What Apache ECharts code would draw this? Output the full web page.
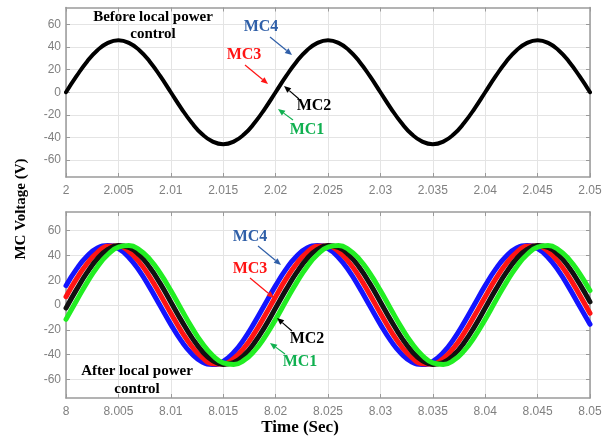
<!DOCTYPE html>
<html><head><meta charset="utf-8">
<script src="https://cdn.jsdelivr.net/npm/echarts@6/dist/echarts.min.js"></script>
<style>html,body{margin:0;padding:0;background:#fff}#c{width:605px;height:438px}</style>
</head><body><div id="c"></div>
<script>
// ---- data ----
const tTop = [2,2.001,2.002,2.003,2.004,2.005,2.006,2.007,2.008,2.009,2.01,2.011,2.012,2.013,2.014,2.015,2.016,2.017,2.018,2.019,2.02,2.021,2.022,2.023,2.024,2.025,2.026,2.027,2.028,2.029,2.03,2.031,2.032,2.033,2.034,2.035,2.036,2.037,2.038,2.039,2.04,2.041,2.042,2.043,2.044,2.045,2.046,2.047,2.048,2.049,2.05];
const vBefore = [0,14.2,27,37.2,43.7,46,43.7,37.2,27,14.2,0,-14.2,-27,-37.2,-43.7,-46,-43.7,-37.2,-27,-14.2,0,14.2,27,37.2,43.7,46,43.7,37.2,27,14.2,0,-14.2,-27,-37.2,-43.7,-46,-43.7,-37.2,-27,-14.2,0,14.2,27,37.2,43.7,46,43.7,37.2,27,14.2,0];
const tBot = [8,8.001,8.002,8.003,8.004,8.005,8.006,8.007,8.008,8.009,8.01,8.011,8.012,8.013,8.014,8.015,8.016,8.017,8.018,8.019,8.02,8.021,8.022,8.023,8.024,8.025,8.026,8.027,8.028,8.029,8.03,8.031,8.032,8.033,8.034,8.035,8.036,8.037,8.038,8.039,8.04,8.041,8.042,8.043,8.044,8.045,8.046,8.047,8.048,8.049,8.05];
const vMC4 = [15.6,28.9,39.3,45.9,48,45.4,38.3,27.5,14,-0.8,-15.6,-28.9,-39.3,-45.9,-48,-45.4,-38.3,-27.5,-14,0.8,15.6,28.9,39.3,45.9,48,45.4,38.3,27.5,14,-0.8,-15.6,-28.9,-39.3,-45.9,-48,-45.4,-38.3,-27.5,-14,0.8,15.6,28.9,39.3,45.9,48,45.4,38.3,27.5,14,-0.8,-15.6];
const vMC3 = [6.7,21,33.3,42.4,47.3,47.5,43.1,34.5,22.5,8.3,-6.7,-21,-33.3,-42.4,-47.3,-47.5,-43.1,-34.5,-22.5,-8.3,6.7,21,33.3,42.4,47.3,47.5,43.1,34.5,22.5,8.3,-6.7,-21,-33.3,-42.4,-47.3,-47.5,-43.1,-34.5,-22.5,-8.3,6.7,21,33.3,42.4,47.3,47.5,43.1,34.5,22.5,8.3,-6.7];
const vMC2 = [-2.5,12.4,26.1,37.3,44.8,47.9,46.4,40.3,30.2,17.2,2.5,-12.4,-26.1,-37.3,-44.8,-47.9,-46.4,-40.3,-30.2,-17.2,-2.5,12.4,26.1,37.3,44.8,47.9,46.4,40.3,30.2,17.2,2.5,-12.4,-26.1,-37.3,-44.8,-47.9,-46.4,-40.3,-30.2,-17.2,-2.5,12.4,26.1,37.3,44.8,47.9,46.4,40.3,30.2,17.2,2.5];
const vMC1 = [-11.6,3.4,18,30.9,40.7,46.6,47.9,44.5,36.8,25.4,11.6,-3.4,-18,-30.9,-40.7,-46.6,-47.9,-44.5,-36.8,-25.4,-11.6,3.4,18,30.9,40.7,46.6,47.9,44.5,36.8,25.4,11.6,-3.4,-18,-30.9,-40.7,-46.6,-47.9,-44.5,-36.8,-25.4,-11.6,3.4,18,30.9,40.7,46.6,47.9,44.5,36.8,25.4,11.6];
const yTicks = [-60,-40,-20,0,20,40,60];
const seriesNames = ['MC4','MC3','MC2','MC1'];

// ---- styling ----
const SERIF = '"Liberation Serif","Times New Roman",serif';
const AX = '#9a9a9a';
const pair = (ts, vs) => ts.map((t, i) => [t, vs[i]]);

function xAx(grid, min, max, pos, labels) {
  return {
    type: 'value', gridIndex: grid, min: min, max: max, interval: 0.005, position: pos,
    axisLine: { show: true, onZero: false, lineStyle: { color: AX, width: 1.5 } },
    axisTick: { show: true, inside: true, length: 4, lineStyle: { color: AX } },
    axisLabel: { show: labels, color: '#808080', fontFamily: '"Liberation Sans",Arial,sans-serif', fontSize: 12, margin: 8,
      formatter: v => String(+v.toFixed(3)) },
    splitLine: { show: labels, lineStyle: { color: '#e4e4e4', width: 1 } }
  };
}
function yAx(grid, pos, labels) {
  return {
    type: 'value', gridIndex: grid, min: -75, max: 75, position: pos,
    axisLine: { show: true, onZero: false, lineStyle: { color: AX, width: 1.5 } },
    axisTick: { show: true, inside: true, length: 4, customValues: yTicks, lineStyle: { color: AX } },
    axisLabel: { show: labels, customValues: yTicks, color: '#808080', fontFamily: '"Liberation Sans",Arial,sans-serif', fontSize: 12, margin: 5 },
    splitLine: { show: labels, lineStyle: { color: '#e4e4e4', width: 1 } }
  };
}

function txt(x, y, s, color, size) {
  return { type: 'text', x: x, y: y, z: 100,
    style: { text: s, fill: color, font: 'bold ' + size + 'px ' + SERIF, align: 'center', verticalAlign: 'middle' } };
}
function arrow(x1, y1, x2, y2, c) {
  const a = Math.atan2(y2 - y1, x2 - x1), L = 7, W = 3;
  const bx = x2 - L * Math.cos(a), by = y2 - L * Math.sin(a);
  const px = -Math.sin(a) * W, py = Math.cos(a) * W;
  return [
    { type: 'line', z: 100, shape: { x1: x1, y1: y1, x2: bx, y2: by }, style: { stroke: c, lineWidth: 1.2 } },
    { type: 'polygon', z: 100, shape: { points: [[x2, y2], [bx + px, by + py], [bx - px, by - py]] }, style: { fill: c } }
  ];
}
const C4 = '#2f5fa8', C3 = '#ff1414', C2 = '#000', C1 = '#10b050';
const graphics = [].concat(
  [txt(153, 17, 'Before local power', '#000', 15), txt(153, 34.5, 'control', '#000', 15)],
  [txt(261, 27, 'MC4', C4, 16)], arrow(270, 37, 292, 55, C4),
  [txt(244, 55, 'MC3', C3, 16)], arrow(245, 65, 268, 84, C3),
  [txt(314, 106, 'MC2', C2, 16)], arrow(299, 99, 284, 86, C2),
  [txt(307, 130, 'MC1', C1, 16)], arrow(293, 120, 278, 109, C1),
  [txt(137, 371, 'After local power', '#000', 15), txt(137, 389, 'control', '#000', 15)],
  [txt(250, 237, 'MC4', C4, 16)], arrow(258, 246, 281, 265, C4),
  [txt(250, 269, 'MC3', C3, 16)], arrow(250, 278, 274, 298, C3),
  [txt(307, 339, 'MC2', C2, 16)], arrow(292, 331, 277, 318, C2),
  [txt(300, 362, 'MC1', C1, 16)], arrow(285, 354, 270, 343, C1),
  [txt(300, 428, 'Time (Sec)', '#000', 17)],
  [{ type: 'text', x: 21, y: 209, rotation: Math.PI / 2, z: 100,
     style: { text: 'MC Voltage (V)', fill: '#000', font: 'bold 15px ' + SERIF, align: 'center', verticalAlign: 'middle' } }]
);

const lineS = (name, grid, data, color, width) => ({
  name: name, type: 'line', xAxisIndex: grid * 2, yAxisIndex: grid * 2, data: data,
  smooth: true, showSymbol: false, symbol: 'none', animation: false,
  lineStyle: { color: color, width: width, cap: 'round', join: 'round' }
});

const chart = echarts.init(document.getElementById('c'), null, { renderer: 'canvas' });
chart.setOption({
  animation: false,
  backgroundColor: '#fff',
  grid: [
    { left: 66, right: 15, top: 7.5, height: 169.5 },
    { left: 66, right: 15, top: 212, height: 186 }
  ],
  xAxis: [
    xAx(0, 2, 2.05, 'bottom', true), xAx(0, 2, 2.05, 'top', false),
    xAx(1, 8, 8.05, 'bottom', true), xAx(1, 8, 8.05, 'top', false)
  ],
  yAxis: [
    yAx(0, 'left', true), yAx(0, 'right', false),
    yAx(1, 'left', true), yAx(1, 'right', false)
  ],
  series: [
    lineS('Before', 0, pair(tTop, vBefore), '#000', 4),
    lineS(seriesNames[0], 1, pair(tBot, vMC4), '#1414ff', 5),
    lineS(seriesNames[1], 1, pair(tBot, vMC3), '#ff1414', 5),
    lineS(seriesNames[2], 1, pair(tBot, vMC2), '#111111', 5),
    lineS(seriesNames[3], 1, pair(tBot, vMC1), '#22ee22', 5)
  ],
  graphic: graphics
});
</script></body></html>
